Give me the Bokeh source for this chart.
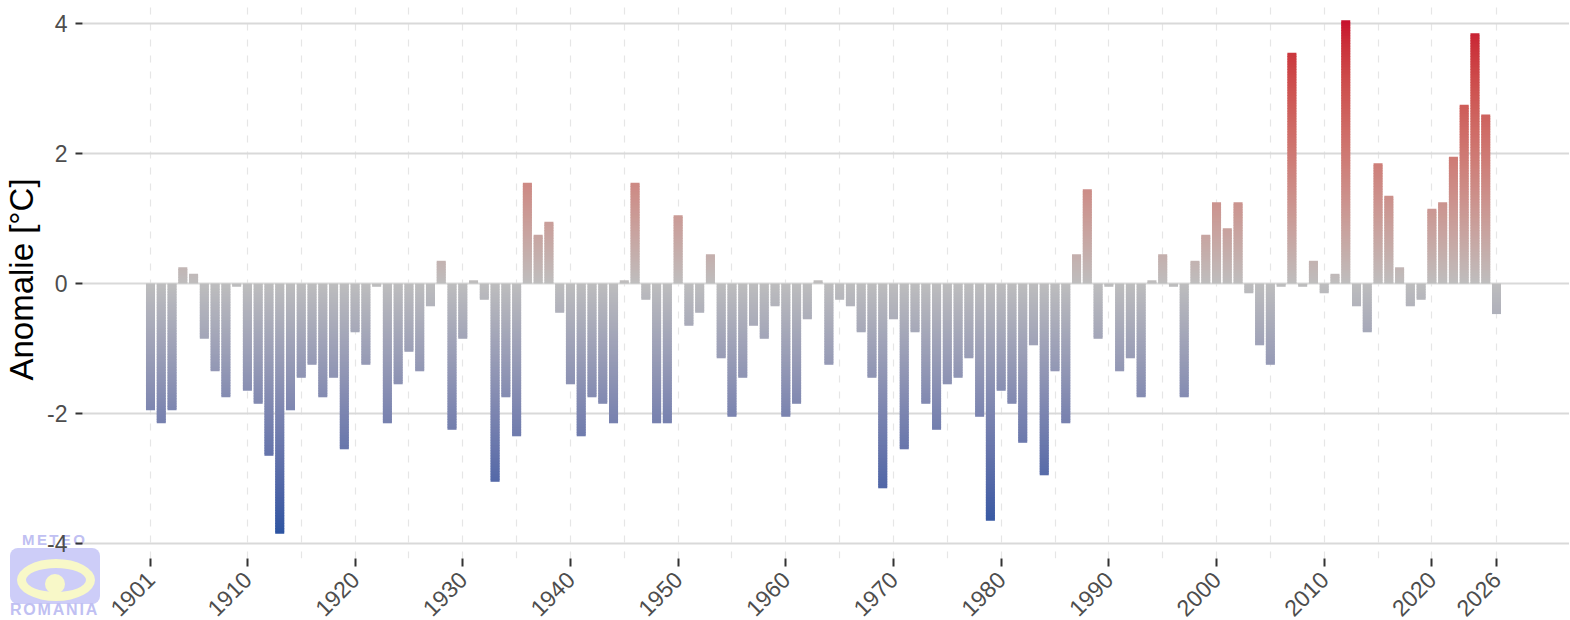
import numpy as np
from math import pi
from bokeh.plotting import figure
from bokeh.layouts import column
from bokeh.models import Range1d, FixedTicker, Div, InlineStyleSheet
from bokeh.embed import file_html
from bokeh.resources import INLINE

# ---------------- data ----------------
years = list(range(1901, 2027))
anomalies = [
    -1.95, -2.15, -1.95, 0.25, 0.15, -0.85, -1.35, -1.75, -0.05, -1.65,   # 1901-1910
    -1.85, -2.65, -3.85, -1.95, -1.45, -1.25, -1.75, -1.45, -2.55, -0.75,  # 1911-1920
    -1.25, -0.05, -2.15, -1.55, -1.05, -1.35, -0.35, 0.35, -2.25, -0.85,   # 1921-1930
    0.05, -0.25, -3.05, -1.75, -2.35, 1.55, 0.75, 0.95, -0.45, -1.55,      # 1931-1940
    -2.35, -1.75, -1.85, -2.15, 0.05, 1.55, -0.25, -2.15, -2.15, 1.05,     # 1941-1950
    -0.65, -0.45, 0.45, -1.15, -2.05, -1.45, -0.65, -0.85, -0.35, -2.05,   # 1951-1960
    -1.85, -0.55, 0.05, -1.25, -0.25, -0.35, -0.75, -1.45, -3.15, -0.55,   # 1961-1970
    -2.55, -0.75, -1.85, -2.25, -1.55, -1.45, -1.15, -2.05, -3.65, -1.65,  # 1971-1980
    -1.85, -2.45, -0.95, -2.95, -1.35, -2.15, 0.45, 1.45, -0.85, -0.05,    # 1981-1990
    -1.35, -1.15, -1.75, 0.05, 0.45, -0.05, -1.75, 0.35, 0.75, 1.25,       # 1991-2000
    0.85, 1.25, -0.15, -0.95, -1.25, -0.05, 3.55, -0.05, 0.35, -0.15,      # 2001-2010
    0.15, 4.05, -0.35, -0.75, 1.85, 1.35, 0.25, -0.35, -0.25, 1.15,        # 2011-2020
    1.25, 1.95, 2.75, 3.85, 2.60, -0.47,                                   # 2021-2026
]
x_tick_years = [1901, 1910, 1920, 1930, 1940, 1950, 1960, 1970, 1980,
                1990, 2000, 2010, 2020, 2026]
x_minor_grid_years = [1915, 1925, 1935, 1945, 1955, 1965, 1975, 1985,
                      1995, 2005, 2015]
y_ticks = [-4, -2, 0, 2, 4]
y_label = "Anomalie [°C]"
logo_top_text = "METEO"
logo_bottom_text = "ROMANIA"

# ---------------- colour scale (Lab interpolation, like gradient2) ----------------
MID_RGB = (190, 190, 190)
LOW_RGB = (30, 80, 160)
HIGH_RGB = (200, 16, 46)
M = np.array([[0.4124, 0.3576, 0.1805], [0.2126, 0.7152, 0.0722], [0.0193, 0.1192, 0.9505]])
Minv = np.linalg.inv(M)
WHITE = np.array([0.95047, 1.0, 1.08883])


def rgb2lab(rgb):
    c = np.array(rgb, dtype=float) / 255.0
    lin = np.where(c <= 0.04045, c / 12.92, ((c + 0.055) / 1.055) ** 2.4)
    xyz = M @ lin / WHITE
    f = np.where(xyz > 0.008856, np.cbrt(xyz), 7.787 * xyz + 16 / 116)
    return np.array([116 * f[1] - 16, 500 * (f[0] - f[1]), 200 * (f[1] - f[2])])


def lab2hex(lab):
    L, a, b = lab
    fy = (L + 16) / 116
    f = np.array([fy + a / 500, fy, fy - b / 200])
    xyz = np.where(f ** 3 > 0.008856, f ** 3, (f - 16 / 116) / 7.787) * WHITE
    lin = np.clip(Minv @ xyz, 0, 1)
    s = np.where(lin <= 0.0031308, 12.92 * lin, 1.055 * lin ** (1 / 2.4) - 0.055)
    r, g, bb = (np.clip(s, 0, 1) * 255).round().astype(int)
    return "#%02x%02x%02x" % (r, g, bb)


LAB_MID, LAB_LOW, LAB_HIGH = rgb2lab(MID_RGB), rgb2lab(LOW_RGB), rgb2lab(HIGH_RGB)
LIM = max(abs(v) for v in anomalies)


def colour(v):
    t = min(abs(v) / LIM, 1.0)
    end = LAB_HIGH if v > 0 else LAB_LOW
    return lab2hex(LAB_MID + (end - LAB_MID) * t)


# ---------------- gradient bars as stacked slices ----------------
STEP = 0.025
BAR_W = 0.84
left, right, bottom, top, fills = [], [], [], [], []
for yr, v in zip(years, anomalies):
    av = abs(v)
    n = int(np.ceil(av / STEP - 1e-9))
    sgn = 1 if v > 0 else -1
    for k in range(n):
        a0 = k * STEP
        a1 = min((k + 1) * STEP, av)
        lo = max(a0 - 0.6 * STEP, 0.0)
        mid = (a0 + a1) / 2
        if sgn > 0:
            b_, t_ = lo, a1
        else:
            b_, t_ = -a1, -lo
        left.append(yr - BAR_W / 2)
        right.append(yr + BAR_W / 2)
        bottom.append(b_)
        top.append(t_)
        fills.append(colour(sgn * mid))

# ---------------- figure ----------------
FONT = "Liberation Sans"
p = figure(
    frame_width=1487, frame_height=558,
    x_range=Range1d(1894.685, 2032.78), y_range=Range1d(-4.23, 4.354),
    output_backend="svg", toolbar_location=None,
    min_border_left=81, min_border_right=0, min_border_top=0, min_border_bottom=60,
    background_fill_color=None, border_fill_color=None,
)
p.outline_line_color = None

p.quad(left=left, right=right, bottom=bottom, top=top,
       fill_color=fills, line_color=None)

# x axis
p.xaxis.ticker = FixedTicker(ticks=x_tick_years, minor_ticks=x_minor_grid_years)
p.xaxis.axis_line_color = None
p.xaxis.major_tick_line_color = "#333333"
p.xaxis.major_tick_line_width = 2
p.xaxis.major_tick_out = 8
p.xaxis.major_tick_in = 0
p.xaxis.minor_tick_line_color = None
p.xaxis.major_label_orientation = pi / 4
p.xaxis.major_label_text_font = FONT
p.xaxis.major_label_text_font_size = "23px"
p.xaxis.major_label_text_color = "#4d4d4d"
p.xaxis.major_label_standoff = 9

# y axis
p.yaxis.ticker = FixedTicker(ticks=y_ticks)
p.yaxis.major_label_overrides = {t: str(t) for t in y_ticks}
p.yaxis.axis_line_color = None
p.yaxis.major_tick_line_color = "#333333"
p.yaxis.major_tick_line_width = 2
p.yaxis.major_tick_out = 7
p.yaxis.major_tick_in = 0
p.yaxis.minor_tick_line_color = None
p.yaxis.major_label_text_font = FONT
p.yaxis.major_label_text_font_size = "23px"
p.yaxis.major_label_text_color = "#4d4d4d"
p.yaxis.major_label_standoff = 8
p.yaxis.axis_label = y_label
p.yaxis.axis_label_text_font = FONT
p.yaxis.axis_label_text_font_size = "33px"
p.yaxis.axis_label_text_font_style = "normal"
p.yaxis.axis_label_text_color = "black"
p.yaxis.axis_label_standoff = 4

# grids
p.ygrid.grid_line_color = "#d9d9d9"
p.ygrid.grid_line_width = 2.2
p.xgrid.grid_line_color = "#e6e6e6"
p.xgrid.grid_line_width = 1.2
p.xgrid.grid_line_dash = "7 9"
p.xgrid.minor_grid_line_color = "#e6e6e6"
p.xgrid.minor_grid_line_width = 1.2
p.xgrid.minor_grid_line_dash = "7 9"

# ---------------- watermark logo (HTML, placed behind the transparent canvas) ----------------
LAV = "#cdcdf8"
YEL = "#f8f8c8"
TXT = "#c0c0f2"
logo_html = f"""
<div style="position:relative;box-sizing:border-box;width:100px;height:89px;font-family:'{FONT}';font-weight:bold;color:{TXT};">
  <div style="position:absolute;left:5px;top:17px;width:90px;height:56px;background:{LAV};border-radius:8px;"></div>
  <div style="position:absolute;box-sizing:border-box;left:12px;top:28px;width:78px;height:42px;border:9px solid {YEL};border-radius:50%;"></div>
  <div style="position:absolute;left:40px;top:43px;width:20px;height:20px;background:{YEL};border-radius:50%;"></div>
  <div style="position:absolute;left:17px;top:1px;font-size:15px;line-height:15px;letter-spacing:2.4px;">{logo_top_text}</div>
  <div style="position:absolute;left:5px;top:70px;font-size:16px;line-height:18px;letter-spacing:1.8px;">{logo_bottom_text}</div>
</div>
"""
logo_css = InlineStyleSheet(css=":host{position:absolute !important;left:0px !important;"
                                "top:526px !important;z-index:-1 !important;}")
logo = Div(text=logo_html, width=100, height=89, stylesheets=[logo_css],
           styles={"position": "absolute", "left": "0px", "top": "526px", "z-index": "-1"})

layout = column(p, logo)
open("out.html", "w").write(file_html(layout, INLINE))
